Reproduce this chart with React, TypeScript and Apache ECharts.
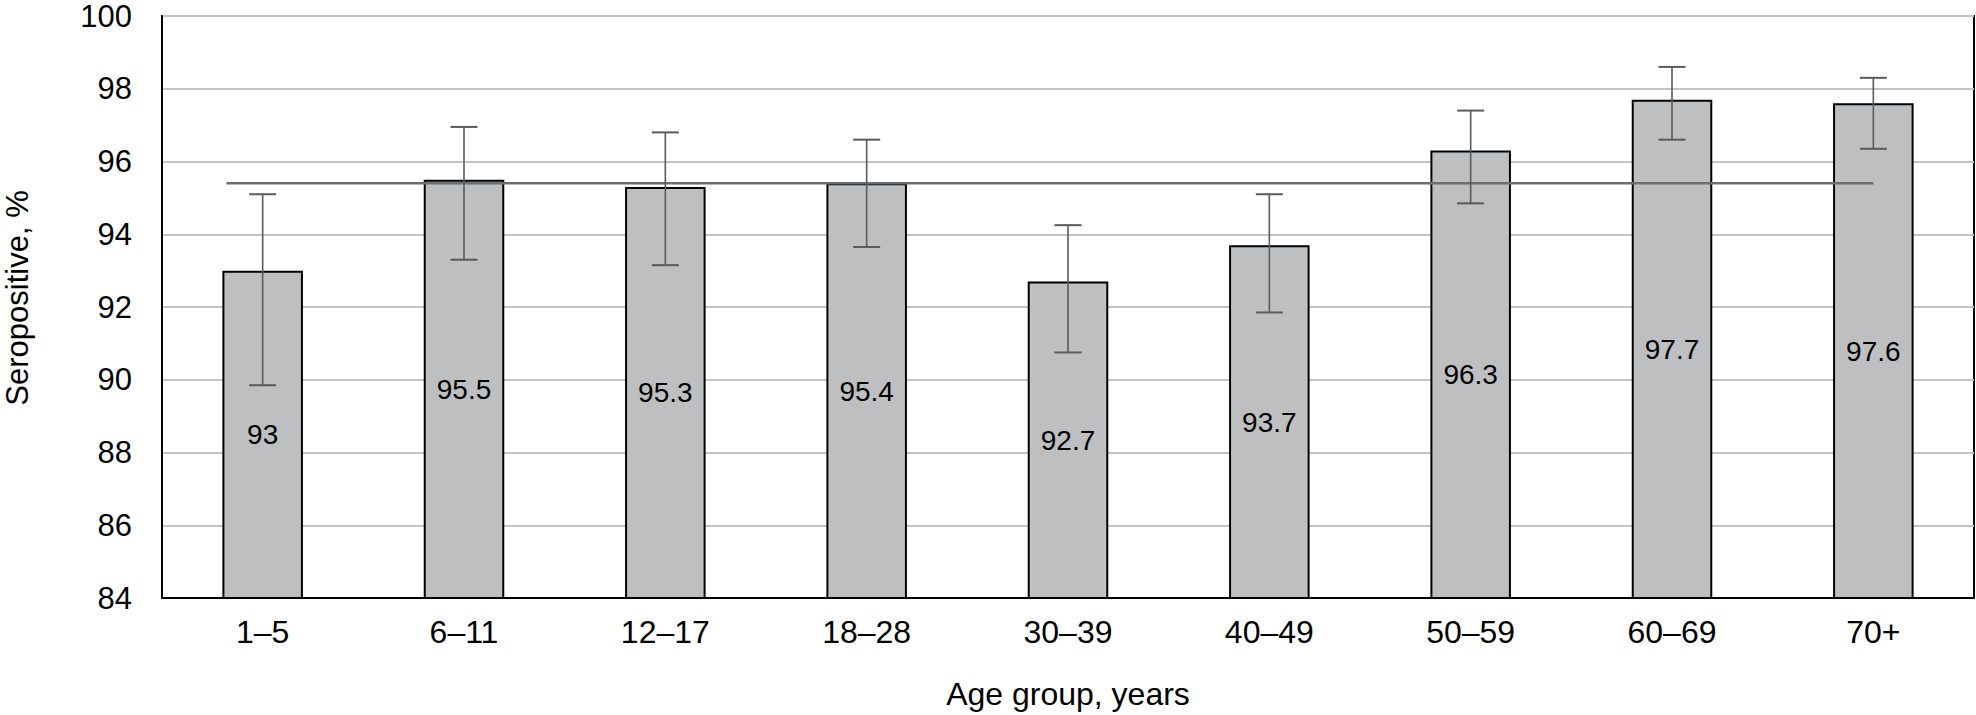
import React, { useEffect, useRef } from "react";
import * as echarts from "echarts";

const categories = ["1–5", "6–11", "12–17", "18–28", "30–39", "40–49", "50–59", "60–69", "70+"];
const values = [93, 95.5, 95.3, 95.4, 92.7, 93.7, 96.3, 97.7, 97.6];
const ciLower = [89.85, 93.3, 93.15, 93.65, 90.75, 91.85, 94.85, 96.6, 96.35];
const ciUpper = [95.1, 96.95, 96.8, 96.6, 94.25, 95.1, 97.4, 98.6, 98.3];
const overallMean = 95.4;
const yMin = 84;
const yMax = 100;
const yInterval = 2;

const FONT = "'Liberation Sans', Arial, Helvetica, sans-serif";

export default function App() {
  const ref = useRef<HTMLDivElement>(null);

  useEffect(() => {
    if (!ref.current) return;
    const chart = echarts.init(ref.current, undefined, { renderer: "svg" });
    const lastIndex = categories.length - 1;

    const option: any = {
      animation: false,
      backgroundColor: "#ffffff",
      textStyle: { fontFamily: FONT, color: "#000" },
      grid: {
        left: 162,
        right: 2,
        top: 16,
        bottom: 116,
        show: true,
        borderColor: "#000",
        borderWidth: 2,
        backgroundColor: "transparent",
      },
      xAxis: {
        type: "category",
        data: categories,
        name: "Age group, years",
        nameLocation: "middle",
        nameGap: 80,
        nameTextStyle: { fontSize: 32, color: "#000", fontFamily: FONT },
        axisLine: { show: true, lineStyle: { color: "#000", width: 2 } },
        axisTick: { show: false },
        axisLabel: { fontSize: 32, color: "#000", margin: 18, fontFamily: FONT, interval: 0 },
        splitLine: { show: false },
      },
      yAxis: {
        type: "value",
        min: yMin,
        max: yMax,
        interval: yInterval,
        axisLine: { show: true, lineStyle: { color: "#000", width: 2 } },
        axisTick: { show: false },
        axisLabel: { fontSize: 31, color: "#000", margin: 30, fontFamily: FONT },
        splitLine: { show: true, lineStyle: { color: "#c4c4c4", width: 2 } },
      },
      graphic: [
        {
          type: "text",
          x: 17,
          y: 298,
          rotation: Math.PI / 2,
          style: {
            text: "Seropositive, %",
            fontSize: 31,
            fontFamily: FONT,
            fill: "#000",
            textAlign: "center",
            textVerticalAlign: "middle",
          },
        },
      ],
      series: [
        {
          type: "bar",
          data: values,
          barWidth: "40%",
          itemStyle: { color: "#bebfc1", borderColor: "#000", borderWidth: 2 },
          label: {
            show: true,
            position: "inside",
            fontSize: 28,
            color: "#000",
            fontFamily: FONT,
            formatter: (p: any) => String(p.value),
          },
          z: 2,
        },
        {
          type: "custom",
          name: "mean",
          data: [[0, overallMean]],
          z: 3,
          renderItem: (params: any, api: any) => {
            const start = api.coord([0, api.value(1)]);
            const end = api.coord([lastIndex, api.value(1)]);
            const band = api.size([1, 0])[0];
            return {
              type: "line",
              shape: { x1: start[0] - band * 0.18, y1: start[1], x2: end[0], y2: end[1] },
              style: { stroke: "#6e6e6e", lineWidth: 2.5 },
            };
          },
        },
        {
          type: "custom",
          name: "ci",
          data: categories.map((_, i) => [i, ciLower[i], ciUpper[i]]),
          z: 4,
          renderItem: (params: any, api: any) => {
            const i = api.value(0);
            const lo = api.coord([i, api.value(1)]);
            const hi = api.coord([i, api.value(2)]);
            const half = 13.5;
            const style = { stroke: "#5a5a5a", lineWidth: 2 };
            return {
              type: "group",
              children: [
                { type: "line", shape: { x1: lo[0], y1: lo[1], x2: hi[0], y2: hi[1] }, style: { stroke: "#5a5a5a", lineWidth: 1.6 } },
                { type: "line", shape: { x1: hi[0] - half, y1: hi[1], x2: hi[0] + half, y2: hi[1] }, style },
                { type: "line", shape: { x1: lo[0] - half, y1: lo[1], x2: lo[0] + half, y2: lo[1] }, style },
              ],
            };
          },
        },
      ],
    };

    chart.setOption(option);
    return () => chart.dispose();
  }, []);

  return (
    <div
      ref={ref}
      style={{ position: "fixed", left: 0, top: 0, width: 1976, height: 715, background: "#fff" }}
    />
  );
}
